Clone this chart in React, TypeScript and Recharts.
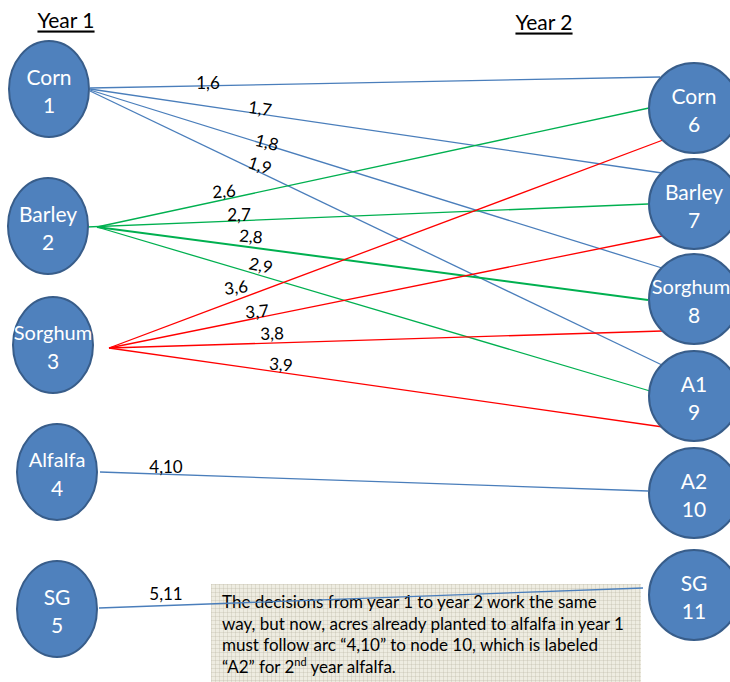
import React from 'react';
import { ReferenceLine, Scatter, ScatterChart, XAxis, YAxis } from 'recharts';

const W = 730;
const H = 682;
const FONT = 'Lato, "Open Sans", sans-serif';

// year 1 nodes (left column)
const year1Names = ['Corn', 'Barley', 'Sorghum', 'Alfalfa', 'SG'];
const year1Ids = [1, 2, 3, 4, 5];
const year1X = [49, 48, 53, 57, 57];
const year1Y = [89, 226, 345, 472, 609];

// year 2 nodes (right column)
const year2Names = ['Corn', 'Barley', 'Sorghum', 'A1', 'A2', 'SG'];
const year2Ids = [6, 7, 8, 9, 10, 11];
const year2X = [694, 694, 694, 694, 694, 694];
const year2Y = [108, 204, 299, 396, 493, 595];

// arcs
const arcNames = ['1,6', '1,7', '1,8', '1,9', '2,6', '2,7', '2,8', '2,9', '3,6', '3,7', '3,8', '3,9', '4,10', '5,11'];
const arcGroup = [1, 1, 1, 1, 2, 2, 2, 2, 3, 3, 3, 3, 1, 1];
const arcStart = [
  [90, 88], [90, 89], [90, 90], [90, 91],
  [97, 227], [37, 229], [97, 227], [97, 227],
  [109, 348], [109, 348], [109, 348], [109, 348],
  [100, 472], [99, 608],
];
const arcEnd = [
  [660, 77], [662, 173], [662, 268], [662, 365],
  [649, 108], [648, 204], [648, 300], [650, 391],
  [663, 140], [662, 236], [662, 331], [663, 427],
  [648, 491], [643, 588],
];
const arcLabelX = [208, 260, 267, 260, 224, 239, 251, 261, 236, 257, 272, 281, 166, 166];
const arcLabelY = [82, 108, 142, 165, 191, 214, 236, 265, 287, 311, 333, 364, 466, 593];
const arcLabelAngle = [0, 8, 14, 18, -4, 0, 5, 12, -7, -5, -2, 5, 0, 0];

const titles = ['Year 1', 'Year 2'];
const titleX = [66, 544];
const titleY = [19, 21];

const groupColor: Record<number, string> = { 1: '#4A7EBB', 2: '#00B050', 3: '#FF0000' };

const nodeData = [
  ...year1Names.map((n, i) => ({ x: year1X[i], y: year1Y[i], name: n, id: year1Ids[i], col: 1 })),
  ...year2Names.map((n, i) => ({ x: year2X[i], y: year2Y[i], name: n, id: year2Ids[i], col: 2 })),
];
const labelData = arcNames.map((n, i) => ({ x: arcLabelX[i], y: arcLabelY[i], name: n, angle: arcLabelAngle[i] }));
const titleData = titles.map((t, i) => ({ x: titleX[i], y: titleY[i], name: t }));

function NodeShape(props: any) {
  const { cx, cy, payload } = props;
  const rx = payload.col === 1 ? 40 : 45;
  const ry = payload.col === 1 ? 48 : 45;
  const long = payload.name.length > 6;
  const nameX = long && payload.col === 2 ? cx - 3 : cx;
  const nameSize = long ? 20 : 21;
  return (
    <g>
      <ellipse cx={cx} cy={cy} rx={rx} ry={ry} fill="#4F81BD" stroke="#385D8A" strokeWidth={2} />
      <text x={nameX} y={cy - 13} textAnchor="middle" dominantBaseline="central" fill="#fff" fontSize={nameSize} fontFamily={FONT}>
        {payload.name}
      </text>
      <text x={cx} y={cy + 15} textAnchor="middle" dominantBaseline="central" fill="#fff" fontSize={21} fontFamily={FONT}>
        {payload.id}
      </text>
    </g>
  );
}

function ArcLabel(props: any) {
  const { cx, cy, payload } = props;
  return (
    <text
      x={cx}
      y={cy}
      textAnchor="middle"
      dominantBaseline="central"
      fontSize={17}
      fontFamily={FONT}
      fill="#000"
      transform={`rotate(${payload.angle} ${cx} ${cy})`}
    >
      {payload.name}
    </text>
  );
}

function TitleShape(props: any) {
  const { cx, cy, payload } = props;
  return (
    <text x={cx} y={cy} textAnchor="middle" dominantBaseline="central" fontSize={21} fontFamily={FONT} fill="#000" textDecoration="underline">
      {payload.name}
    </text>
  );
}

export default function App() {
  return (
    <div style={{ position: 'absolute', left: 0, top: 0, width: W, height: H, overflow: 'hidden', background: '#fff' }}>
      <div
        style={{
          position: 'absolute',
          left: 211,
          top: 584,
          width: 430,
          height: 98,
          boxSizing: 'border-box',
          padding: '7px 0 0 11px',
          backgroundColor: '#EEECE1',
          backgroundImage:
            'linear-gradient(to right, rgba(190,186,170,0.35) 1px, transparent 1px), linear-gradient(to bottom, rgba(190,186,170,0.35) 1px, transparent 1px)',
          backgroundSize: '4px 4px',
          fontFamily: FONT,
          fontSize: 17,
          lineHeight: '21.5px',
          color: '#000',
          whiteSpace: 'nowrap',
        }}
      >
        The decisions from year 1 to year 2 work the same
        <br />
        way, but now, acres already planted to alfalfa in year 1
        <br />
        must follow arc “4,10” to node 10, which is labeled
        <br />
        “A2” for 2<sup style={{ fontSize: 11, lineHeight: 0 }}>nd</sup> year alfalfa.
      </div>
      <div style={{ position: 'absolute', left: 0, top: 0 }}>
        <ScatterChart width={W} height={H} margin={{ top: 0, right: 0, bottom: 0, left: 0 }}>
          <XAxis type="number" dataKey="x" domain={[0, W]} hide />
          <YAxis type="number" dataKey="y" domain={[0, H]} reversed hide />
          {arcNames.map((n, i) => (
            <ReferenceLine
              key={n}
              segment={[
                { x: arcStart[i][0], y: arcStart[i][1] },
                { x: arcEnd[i][0], y: arcEnd[i][1] },
              ]}
              stroke={groupColor[arcGroup[i]]}
              strokeWidth={n === '2,8' ? 2 : 1.3}
            />
          ))}
          <Scatter data={nodeData} shape={NodeShape} isAnimationActive={false} />
          <Scatter data={labelData} shape={ArcLabel} isAnimationActive={false} />
          <Scatter data={titleData} shape={TitleShape} isAnimationActive={false} />
        </ScatterChart>
      </div>
    </div>
  );
}
